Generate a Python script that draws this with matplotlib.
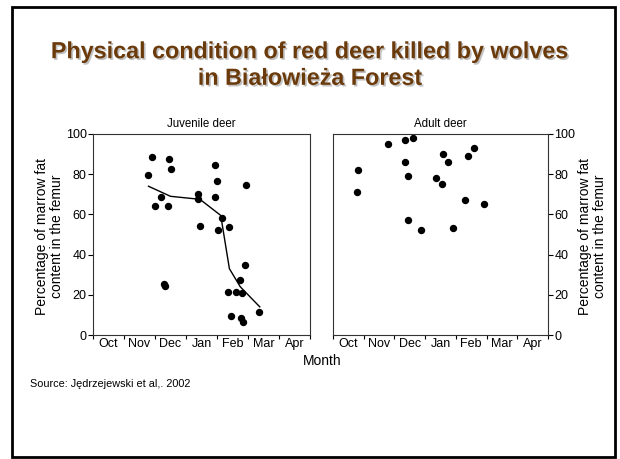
import matplotlib
matplotlib.use("Agg")
from matplotlib import pyplot as plt
from matplotlib import patheffects as pe
from matplotlib.patches import Rectangle
import numpy as np

plt.rcParams['font.family'] = ['Liberation Sans', 'DejaVu Sans']

months = ['Oct', 'Nov', 'Dec', 'Jan', 'Feb', 'Mar', 'Apr']

# juvenile deer: month position (0 = start of Oct), marrow fat %
juv_x = [1.79, 1.89, 2.00, 2.19, 2.30, 2.32, 2.43, 2.46, 2.50, 3.39, 3.40, 3.45,
         3.95, 4.01, 3.95, 4.03, 4.16, 4.40, 4.35, 4.44, 4.61, 4.74, 4.80, 4.89,
         4.93, 4.76, 4.83, 5.35]
juv_y = [79.6, 88.6, 64.3, 68.7, 25.4, 24.5, 64.3, 87.6, 82.6, 70.3, 67.7, 54.4,
         84.7, 76.4, 68.7, 52.4, 58.2, 53.6, 21.4, 9.3, 21.4, 27.5, 20.9, 34.7,
         74.6, 8.5, 6.6, 11.3]

# smoothed trend for juveniles
trend_x = [1.79, 2.50, 3.45, 4.12, 4.40, 4.75, 5.38]
trend_y = [74.0, 69.0, 67.5, 59.5, 33.0, 24.0, 14.0]

# adult deer
adult_x = [0.78, 0.82, 1.78, 2.34, 2.60, 2.34, 2.43, 2.43, 2.86, 3.36, 3.58, 3.55,
           3.75, 3.90, 4.30, 4.40, 4.59, 4.91]
adult_y = [71.3, 82.3, 95.2, 96.8, 98.2, 86.2, 79.1, 57.0, 52.4, 78.3, 90.2, 75.1,
           86.1, 53.4, 67.3, 89.2, 93.2, 65.2]

ylab = 'Percentage of marrow fat\ncontent in the femur'
brown = '#6b3a0b'

fig = plt.figure(figsize=(6.2, 4.59), dpi=100)

# slide frame
fig.add_artist(Rectangle((12 / 620, 1 - 457 / 459), 603 / 620, 450 / 459,
                         transform=fig.transFigure, fill=False,
                         edgecolor='black', linewidth=2))

title = fig.text(0.5, 1 - 65 / 459,
                 'Physical condition of red deer killed by wolves\nin Białowieża Forest',
                 ha='center', va='center', fontsize=16.8, fontweight='bold',
                 color=brown, linespacing=1.2)
title.set_path_effects([pe.withSimplePatchShadow(offset=(1.2, -1.2),
                                                 shadow_rgbFace='#999999', alpha=0.6)])


def setup(ax, side):
    ax.set_xlim(0, 7)
    ax.set_ylim(0, 100)
    ax.set_xticks(np.arange(0, 8))
    ax.set_xticklabels([])
    ax.set_xticks(np.arange(0.5, 7), minor=True)
    ax.set_xticklabels(months, minor=True, fontsize=9)
    ax.tick_params(axis='x', which='minor', length=0, pad=2)
    ax.tick_params(axis='x', which='major', length=3, width=0.8, direction='out')
    ax.set_yticks(np.arange(0, 101, 20))
    ax.tick_params(axis='y', length=3.5, width=0.8, labelsize=9, pad=1)
    ax.set_ylabel(ylab, fontsize=10, linespacing=1.1, rotation=90)
    if side == 'right':
        ax.yaxis.tick_right()
        ax.yaxis.set_label_position('right')
        ax.yaxis.set_label_coords(1.14, 0.49)
    else:
        ax.yaxis.set_label_coords(-0.133, 0.49)
    for sp in ax.spines.values():
        sp.set_linewidth(0.8)
        sp.set_color('#333333')


ax1 = fig.add_axes([93 / 620, 1 - 335 / 459, 217 / 620, 201 / 459])
setup(ax1, 'left')
ax1.plot(juv_x, juv_y, 'o', color='black', markersize=4.3)
ax1.plot(trend_x, trend_y, '-', color='black', linewidth=1)
ax1.set_title('Juvenile deer', fontsize=8.3, pad=5)

ax2 = fig.add_axes([333 / 620, 1 - 335 / 459, 215 / 620, 201 / 459])
setup(ax2, 'right')
ax2.plot(adult_x, adult_y, 'o', color='black', markersize=4.3)
ax2.set_title('Adult deer', fontsize=8.3, pad=5)

fig.text(322 / 620, 1 - 361 / 459, 'Month', ha='center', va='center', fontsize=10)
fig.text(30 / 620, 1 - 384 / 459, 'Source: Jędrzejewski et al,. 2002',
         ha='left', va='center', fontsize=7.8)

fig.savefig('out.png', dpi=100)
